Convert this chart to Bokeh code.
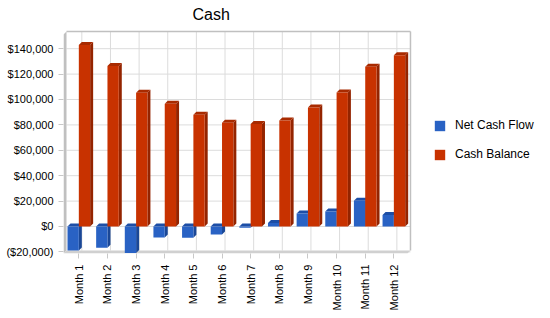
from math import pi

from bokeh.core.properties import value
from bokeh.embed import file_html
from bokeh.models import FixedTicker, Legend, LegendItem, Range1d
from bokeh.plotting import figure
from bokeh.resources import INLINE

# Monthly cash figures
months = ["Month 1", "Month 2", "Month 3", "Month 4", "Month 5", "Month 6",
          "Month 7", "Month 8", "Month 9", "Month 10", "Month 11", "Month 12"]
net_cash_flow = [-18900, -16700, -20900, -8700, -8800, -6300,
                 -900, 2800, 10200, 11900, 20200, 9000]
cash_balance = [143000, 126300, 105400, 96700, 87900, 81600,
                80700, 83500, 93700, 105600, 125800, 134800]
y_ticks = [-20000, 0, 20000, 40000, 60000, 80000, 100000, 120000, 140000]

# Geometry of the pseudo-3D box (data units).  The frame runs on to the
# right-hand and top edges so the legend and heading can sit beside the box.
PX_PER_MONTH = 28.64
X0, X1 = -0.035, 12.08
X_END = X0 + (550 - 63) / PX_PER_MONTH
Y0, Y1 = -21260, 153540
PER_PX_Y = (Y1 - Y0) / 222
Y_TOP = Y1 + 31 * PER_PX_Y
DX, DY = 0.105, 2360          # depth offset of the back plane
BAR_W = 0.395

FONT = "Liberation Sans"
GRID = "#DCDCDC"
EDGE = "#C0C0C0"

p = figure(width=550, height=318, output_backend="svg", toolbar_location=None,
           title=None,
           x_range=Range1d(X0, X_END), y_range=Range1d(Y0, Y_TOP),
           min_border_left=63, min_border_right=0,
           min_border_top=0, min_border_bottom=65)

p.background_fill_color = "white"
p.border_fill_color = "white"
p.outline_line_color = None
p.grid.visible = False

# Heading, centred over the chart area
p.text(x=[X0 + (210.7 - 63) / PX_PER_MONTH], y=[Y_TOP - 14 * PER_PX_Y],
       text=["Cash"], text_align="center", text_baseline="alphabetic",
       text_font=value(FONT), text_font_size="16px", text_color="black")

# Axes
centers = [i + 0.5 for i in range(len(months))]
p.xaxis.ticker = FixedTicker(ticks=centers)
p.xaxis.major_label_overrides = {c: m for c, m in zip(centers, months)}
p.xaxis.major_label_orientation = pi / 2
p.xaxis.axis_line_color = None
p.xaxis.major_tick_in = 0
p.xaxis.major_tick_out = 5
p.xaxis.major_tick_line_color = "#C8C8C8"
p.xaxis.minor_tick_line_color = None
p.xaxis.major_label_standoff = 6

def money(v):
    s = "${:,}".format(abs(v))
    return "(" + s + ")" if v < 0 else s

p.yaxis.ticker = FixedTicker(ticks=y_ticks)
p.yaxis.major_label_overrides = {v: money(v) for v in y_ticks}
p.yaxis.axis_line_color = None
p.yaxis.major_tick_in = 0
p.yaxis.major_tick_out = 5
p.yaxis.major_tick_line_color = "#C8C8C8"
p.yaxis.minor_tick_line_color = None
p.yaxis.major_label_standoff = 5

for ax in (p.xaxis, p.yaxis):
    ax.major_label_text_font = FONT
    ax.major_label_text_font_size = "11px"
    ax.major_label_text_color = "black"

# Back wall grid lines, limited to the box
p.segment(x0=X0 + DX, x1=X1, y0=y_ticks, y1=y_ticks, line_color=GRID, line_width=1)
p.segment(x0=[c + DX for c in centers], x1=[c + DX for c in centers],
          y0=Y0 + DY, y1=Y1, line_color=GRID, line_width=1)

# Box edges: top and right border, left wall and floor
p.segment(x0=[X0 + DX, X1], x1=[X1, X1], y0=[Y1, Y0 + DY], y1=[Y1, Y1],
          line_color=EDGE, line_width=1.5)
p.patch([X0, X0 + DX, X0 + DX, X0], [Y0, Y0 + DY, Y1, Y1 - DY],
        fill_color=EDGE, line_color=None)
p.patch([X0, X0 + DX, X1, X1 - DX], [Y0, Y0 + DY, Y0 + DY, Y0],
        fill_color="#D0D0D0", line_color=None)


def bar_faces(xs_left, values):
    side_x, side_y, top_x, top_y = [], [], [], []
    for x0, v in zip(xs_left, values):
        x1 = x0 + BAR_W
        b, t = min(0, v), max(0, v)
        side_x.append([x1, x1 + DX, x1 + DX, x1])
        side_y.append([b, b + DY, t + DY, t])
        top_x.append([x0, x0 + DX, x1 + DX, x1])
        top_y.append([t, t + DY, t + DY, t])
    return side_x, side_y, top_x, top_y


def draw_series(xs_left, values, front, top, side):
    sx, sy, tx, ty = bar_faces(xs_left, values)
    p.patches(sx, sy, fill_color=side, line_color=None)
    p.patches(tx, ty, fill_color=top, line_color=None)
    return p.vbar(x=[x + BAR_W / 2 for x in xs_left], width=BAR_W,
                  top=values, bottom=0, fill_color=front, line_color=None)


blue_left = [c - BAR_W for c in centers]
red_left = list(centers)

r_net = draw_series(blue_left, net_cash_flow, "#2962C4", "#1D4EA6", "#1A4796")
r_bal = draw_series(red_left, cash_balance, "#C83200", "#A82A00", "#942400")

legend = Legend(items=[LegendItem(label="Net Cash Flow", renderers=[r_net]),
                       LegendItem(label="Cash Balance", renderers=[r_bal])],
                location=(370, 92), orientation="vertical",
                glyph_width=13, glyph_height=13, label_height=13,
                label_standoff=9, spacing=15, padding=0, margin=0,
                border_line_color=None, background_fill_alpha=0,
                label_text_font=FONT, label_text_font_size="12px",
                label_text_color="black")
p.add_layout(legend, "center")

open("out.html", "w").write(file_html(p, INLINE))
